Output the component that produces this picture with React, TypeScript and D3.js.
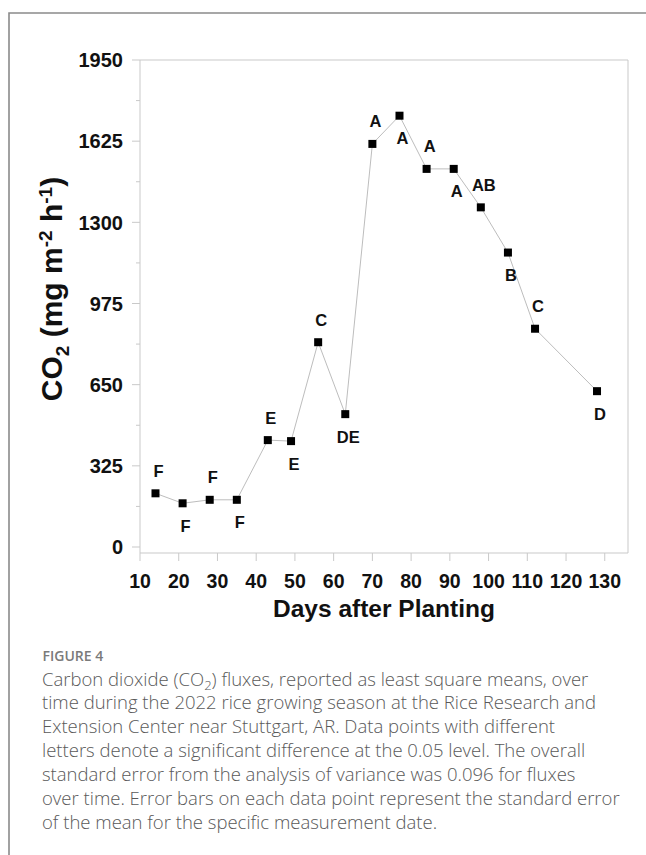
import * as d3 from 'd3';

// CO2 flux (least square means) by days after planting
const days = [14, 21, 28, 35, 43, 49, 56, 63, 70, 77, 84, 91, 98, 105, 112, 128];
const co2 = [215, 175, 189, 189, 428, 424, 820, 532, 1614, 1727, 1514, 1514, 1360, 1179, 874, 624];
const letters = ['F', 'F', 'F', 'F', 'E', 'E', 'C', 'DE', 'A', 'A', 'A', 'A', 'AB', 'B', 'C', 'D'];

const yTicks = [0, 325, 650, 975, 1300, 1625, 1950];
const xTicks = [10, 20, 30, 40, 50, 60, 70, 80, 90, 100, 110, 120, 130];

const captionTitle = 'FIGURE 4';
const captionLines = [
  'time during the 2022 rice growing season at the Rice Research and',
  'Extension Center near Stuttgart, AR. Data points with different',
  'letters denote a significant difference at the 0.05 level. The overall',
  'standard error from the analysis of variance was 0.096 for fluxes',
  'over time. Error bars on each data point represent the standard error',
  'of the mean for the specific measurement date.',
];

const W = 646;
const H = 855;
const chartFont = '"Liberation Sans", Arial, Helvetica, sans-serif';
const captionFont = '"Open Sans", "Noto Sans", sans-serif';
const axisGrey = '#c9c9c9';

export default function App() {
  const x = d3.scaleLinear().domain([10, 136]).range([140, 628]);
  const y = d3.scaleLinear().domain([-24, 1950]).range([553, 60]);

  const minorTicks = d3.range(162.5, 1950, 325);
  const pts = days.map((d, i) => [x(d), y(co2[i])] as [number, number]);
  const line = d3.line()(pts) || '';

  const x0 = x.range()[0], x1 = x.range()[1];
  const yb = y.range()[0], yt = y.range()[1];

  return (
    <svg width={W} height={H} style={{ position: 'absolute', left: 0, top: 0, background: '#fff' }}>
      {/* outer frame, cut off at right and bottom */}
      <path d={`M9,${H + 5} L9,13 L${W + 5},13`} fill="none" stroke="#8a8a8a" strokeWidth={1.6} />

      {/* plot frame + axes */}
      <g fill="none" stroke={axisGrey} strokeWidth={1}>
        <line x1={x0} x2={x0} y1={yt} y2={yb} />
        <line x1={x0} x2={x1} y1={yb} y2={yb} />
        <line x1={x0} x2={x1} y1={yt} y2={yt} />
        <line x1={x1} x2={x1} y1={yt} y2={yb} />
        {yTicks.map(t => (
          <line key={'ym' + t} x1={x0 - 8} x2={x0} y1={y(t)} y2={y(t)} />
        ))}
        {minorTicks.map(t => (
          <line key={'yn' + t} x1={x0 - 4} x2={x0} y1={y(t)} y2={y(t)} />
        ))}
        {xTicks.map(t => (
          <line key={'xt' + t} x1={x(t)} x2={x(t)} y1={yb} y2={yb + 8} />
        ))}
      </g>

      <g fontFamily={chartFont} fontWeight="bold" fontSize={20} fill="#111">
        {yTicks.map(t => (
          <text key={'yl' + t} x={x0 - 17} y={y(t)} dy="0.36em" textAnchor="end">{t}</text>
        ))}
        {xTicks.map(t => (
          <text key={'xl' + t} x={x(t)} y={588} textAnchor="middle" fontSize={19.5}>{t}</text>
        ))}
        <text x={(x0 + x1) / 2} y={617} textAnchor="middle" fontSize={24.5}>Days after Planting</text>
        <text transform="translate(62,289) rotate(-90)" textAnchor="middle" fontSize={30}>
          CO<tspan fontSize={19} dy={7}>2</tspan>
          <tspan dy={-7}> (mg m</tspan>
          <tspan fontSize={19} dy={-10}>-2</tspan>
          <tspan dy={10}> h</tspan>
          <tspan fontSize={19} dy={-10}>-1</tspan>
          <tspan dy={10}>)</tspan>
        </text>
      </g>

      {/* series */}
      <path d={line} fill="none" stroke="#bdbdbd" strokeWidth={1} />
      {pts.map(([px, py], i) => (
        <rect key={'m' + i} x={px - 4} y={py - 4} width={8} height={8} fill="#000" />
      ))}
      <g fontFamily={chartFont} fontWeight="bold" fontSize={16.5} fill="#111" textAnchor="middle">
        {pts.map(([px, py], i) => (
          <text key={'l' + i} x={px + 3} y={i % 2 === 0 ? py - 16.5 : py + 28.5}>{letters[i]}</text>
        ))}
      </g>

      {/* caption */}
      <text x={42.5} y={661} fontFamily={captionFont} fontWeight={600} fontSize={14} fill="#7a7a7a">
        {captionTitle}
      </text>
      <g fontFamily={captionFont} fontWeight={300} fontSize={18.5} fill="#595959">
        <text x={42} y={685.5}>
          Carbon dioxide (CO<tspan fontSize={13} dy={4}>2</tspan>
          <tspan dy={-4}>) fluxes, reported as least square means, over</tspan>
        </text>
        {captionLines.map((l, i) => (
          <text key={'c' + i} x={42} y={685.5 + (i + 1) * 23.9}>{l}</text>
        ))}
      </g>
    </svg>
  );
}
